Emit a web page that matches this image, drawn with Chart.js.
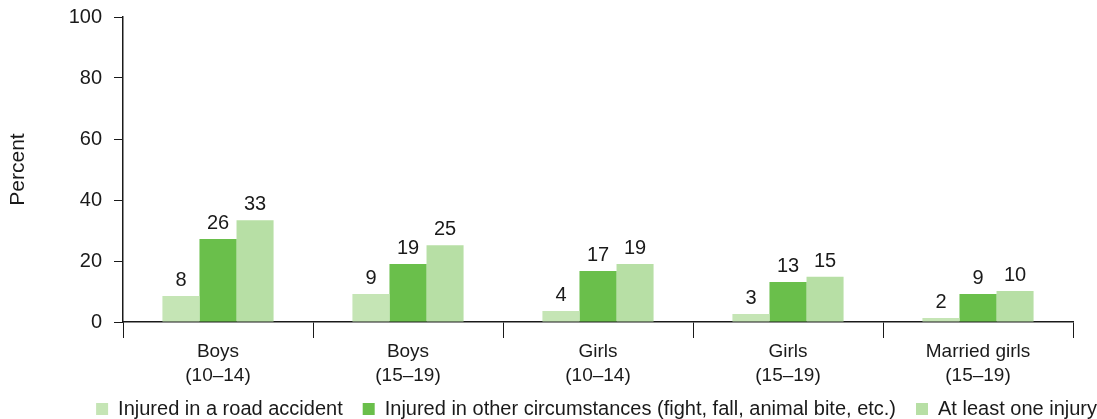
<!DOCTYPE html>
<html>
<head>
<meta charset="utf-8">
<script src="https://cdn.jsdelivr.net/npm/chart.js@4"></script>
<style>
  html, body { margin: 0; padding: 0; background: #fff; }
  #wrap { width: 1097px; height: 419px; }
</style>
</head>
<body>
<div id="wrap"><canvas id="injuryChart"></canvas></div>
<script>
const categories = [['Boys', '(10\u201314)'], ['Boys', '(15\u201319)'], ['Girls', '(10\u201314)'], ['Girls', '(15\u201319)'], ['Married girls', '(15\u201319)']];
const seriesNames = ['Injured in a road accident', 'Injured in other circumstances (fight, fall, animal bite, etc.)', 'At least one injury'];

// bar heights as measured, labels as printed
const roadAccident = [8.5, 9.2, 3.6, 2.6, 1.3];
const otherInjury = [27.2, 19, 16.7, 13.1, 9.2];
const atLeastOne = [33.4, 25.2, 19, 14.8, 10.2];
const roadLabels = [8, 9, 4, 3, 2];
const otherLabels = [26, 19, 17, 13, 9];
const anyLabels = [33, 25, 19, 15, 10];

const yTicks = [0, 20, 40, 60, 80, 100];
const colors = ['#c5e5b5', '#6abf4b', '#b7dfa5'];
const FONT = "'Liberation Sans', Arial, sans-serif";

const valueLabels = {
    id: 'valueLabels',
    afterDatasetsDraw(chart) {
        const ctx = chart.ctx;
        const labelSets = [roadLabels, otherLabels, anyLabels];
        ctx.save();
        ctx.font = '20px ' + FONT;
        ctx.fillStyle = '#1a1a1a';
        ctx.textAlign = 'center';
        ctx.textBaseline = 'alphabetic';
        chart.data.datasets.forEach((ds, i) => {
            chart.getDatasetMeta(i).data.forEach((bar, j) => {
                ctx.fillText(String(labelSets[i][j]), bar.x, bar.y - 10);
            });
        });
        ctx.restore();
    }
};

// let the two-line category labels run into the legend band without being clipped
const unclipX = {
    id: 'unclipX',
    afterLayout(chart) {
        chart.scales.x.bottom = chart.height;
    }
};

new Chart(document.getElementById('injuryChart'), {
    type: 'bar',
    data: {
        labels: categories,
        datasets: [
            {label: seriesNames[0], data: roadAccident, backgroundColor: colors[0]},
            {label: seriesNames[1], data: otherInjury, backgroundColor: colors[1]},
            {label: seriesNames[2], data: atLeastOne, backgroundColor: colors[2]}
        ]
    },
    options: {
        responsive: true,
        maintainAspectRatio: false,
        animation: false,
        layout: {padding: {top: 0, left: 0, right: -20, bottom: -10}},
        datasets: {bar: {categoryPercentage: 0.585, barPercentage: 1.0}},
        plugins: {
            legend: {
                position: 'bottom',
                align: 'end',
                labels: {
                    boxWidth: 12, boxHeight: 12, padding: 20,
                    color: '#1a1a1a',
                    font: {family: FONT, size: 20}
                }
            },
            tooltip: {enabled: false}
        },
        scales: {
            x: {
                offset: true,
                afterFit: s => { s.height = 57; },
                grid: {display: true, offset: true, drawOnChartArea: false, tickLength: 16, color: '#1a1a1a', lineWidth: 1},
                border: {display: true, color: '#1a1a1a', width: 1.5},
                ticks: {color: '#1a1a1a', font: {family: FONT, size: 19, lineHeight: 1.3}, maxRotation: 0, padding: 1}
            },
            y: {
                min: 0, max: 100,
                afterBuildTicks: s => { s.ticks = yTicks.map(v => ({value: v})); },
                afterFit: s => { s.width = 123; s.paddingTop = 17; },
                grid: {display: true, drawOnChartArea: false, tickLength: 9, color: '#1a1a1a'},
                border: {display: true, color: '#1a1a1a', width: 1.5},
                ticks: {color: '#1a1a1a', font: {family: FONT, size: 20}, padding: 12},
                title: {display: true, text: 'Percent', color: '#1a1a1a', font: {family: FONT, size: 21}, padding: {top: 6, bottom: 0}}
            },
            y2: {
                position: 'right',
                display: true,
                grid: {display: false},
                border: {display: false},
                ticks: {display: false},
                afterFit: s => { s.width = 44; }
            }
        }
    },
    plugins: [valueLabels, unclipX]
});
</script>
</body>
</html>
